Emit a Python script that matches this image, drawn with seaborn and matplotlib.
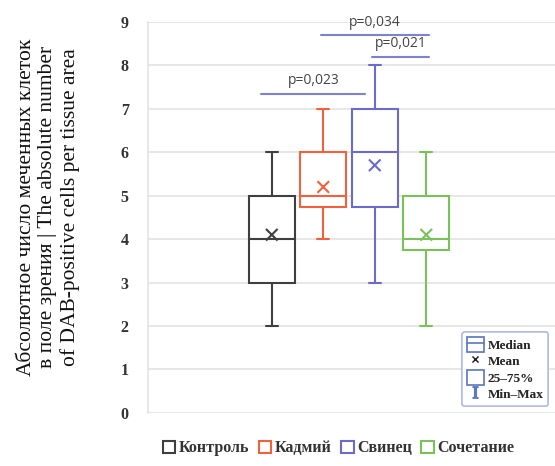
import numpy as np
import pandas as pd
import matplotlib
matplotlib.use("Agg")
import matplotlib.pyplot as plt
import seaborn as sns
from matplotlib.patches import Patch
from matplotlib.lines import Line2D
from matplotlib.legend_handler import HandlerTuple

# ========== data ==========
groups = ["Контроль", "Кадмий", "Свинец", "Сочетание"]
colors = ["#3f3f3f", "#f2603c", "#6b6bcc", "#79c25a"]
v_min = [2, 4, 3, 2]
v_q1 = [3, 4.75, 4.75, 3.75]
v_med = [4, 5, 6, 4]
v_q3 = [5, 6, 7, 5]
v_max = [6, 7, 8, 6]
v_mean = [4.1, 5.2, 5.7, 4.1]

# significance brackets: (from group, to group, level, label)
p_from = [0, 1, 2]
p_to = [2, 3, 3]
p_level = [7.35, 8.7, 8.2]
p_text = ["p=0,023", "p=0,034", "p=0,021"]

# ========== style ==========
sns.set_style("white")
plt.rcParams['font.family'] = ['Liberation Serif', 'DejaVu Serif']
plt.rcParams['mathtext.fontset'] = 'stix'

fig = plt.figure(figsize=(5.55, 4.66), dpi=100)
ax = fig.add_axes([0.267, 0.114, 0.733, 0.839])

stats = []
for i, g in enumerate(groups):
    stats.append(dict(label=g, whislo=v_min[i], q1=v_q1[i], med=v_med[i],
                      q3=v_q3[i], whishi=v_max[i], mean=v_mean[i], fliers=[]))

pos = np.arange(len(groups))
bp = ax.bxp(stats, positions=pos, widths=0.9, showmeans=False, showfliers=False,
            patch_artist=True, manage_ticks=False)
for i, c in enumerate(colors):
    bp['boxes'][i].set(facecolor="white", edgecolor=c, linewidth=1.5)
    bp['medians'][i].set(color=c, linewidth=1.5)
    for k in (2 * i, 2 * i + 1):
        bp['whiskers'][k].set(color=c, linewidth=1.5)
        bp['caps'][k].set(color=c, linewidth=1.5)
        bp['caps'][k].set_xdata([pos[i] - 0.12, pos[i] + 0.12])

df_mean = pd.DataFrame({"x": pos, "mean": v_mean, "group": groups})
sns.scatterplot(data=df_mean, x="x", y="mean", hue="group", palette=colors,
                marker="x", s=70, linewidth=1.5, legend=False, ax=ax, zorder=5)

# brackets
for a, b, lvl, txt in zip(p_from, p_to, p_level, p_text):
    x0 = pos[a] - 0.2 if a == 0 else pos[a] - 0.05
    x1 = pos[b] - 0.18 if a == 0 else pos[b] + 0.05
    ax.plot([x0, x1], [lvl, lvl], color="#7b83cf", linewidth=1.5)
    ax.text((x0 + x1) / 2, lvl + 0.12, txt, ha="center", va="bottom",
            fontsize=10, color="#444444", family=['Open Sans', 'DejaVu Sans'])

ax.set_xlim(-2.4, 5.5)
ax.set_ylim(0, 9)
ax.set_yticks(range(0, 10))
ax.set_xticks([])
ax.set_xlabel("")
ax.set_ylabel("")
ax.grid(axis="y", color="#e3e3e3", linewidth=1.2)
ax.set_axisbelow(True)
for s in ["top", "right", "bottom"]:
    ax.spines[s].set_visible(False)
ax.spines["left"].set_color("#e3e3e3")
ax.spines["left"].set_linewidth(1.2)
ax.tick_params(axis="y", length=0, pad=14, labelsize=11.5)
for t in ax.get_yticklabels():
    t.set_fontweight("bold")
    t.set_color("#333333")

fig.text(0.087, 0.555,
         "Абсолютное число меченных клеток\nв поле зрения | The absolute number\nof DAB-positive cells per tissue area",
         rotation=90, ha="center", va="center", fontsize=15.5, linespacing=1.17,
         color="#111111")

# inner legend (box elements)
lc = "#5b78c0"
med_h = (Patch(facecolor="white", edgecolor=lc, linewidth=1.2),
         Line2D([0], [0], color=lc, linewidth=1.2))
mean_h = Line2D([0], [0], marker="x", color="#222222", linestyle="none", markersize=5)
box_h = Patch(facecolor="white", edgecolor=lc, linewidth=1.2)
mm_h = Line2D([0], [0], marker=r"$\mathrm{I}$", color=lc, linestyle="none", markersize=8)
leg1 = ax.legend([med_h, mean_h, box_h, mm_h], ["Median", "Mean", "25–75%", "Min–Max"],
                 handler_map={tuple: HandlerTuple(ndivide=1, pad=0)},
                 loc="lower right", bbox_to_anchor=(1.0, 0.0), frameon=True,
                 prop={"family": "Liberation Serif", "weight": "bold", "size": 9.5},
                 handlelength=1.3, handleheight=1.4, handletextpad=0.3,
                 labelspacing=0.1, borderpad=0.35, fancybox=True)
leg1.get_frame().set_edgecolor("#a9b8e0")
leg1.get_frame().set_linewidth(1.2)
ax.add_artist(leg1)

# bottom legend (groups)
g_handles = [Patch(facecolor="white", edgecolor=c, linewidth=1.5) for c in colors]
fig.legend(g_handles, groups, loc="lower center", bbox_to_anchor=(0.61, -0.01),
           ncol=4, frameon=False, handlelength=0.8, handleheight=0.8,
           handletextpad=0.2, columnspacing=0.6,
           prop={"family": "Liberation Serif", "weight": "bold", "size": 11.5},
           labelcolor="#333333")

fig.savefig("out.png", dpi=100)
plt.close()
